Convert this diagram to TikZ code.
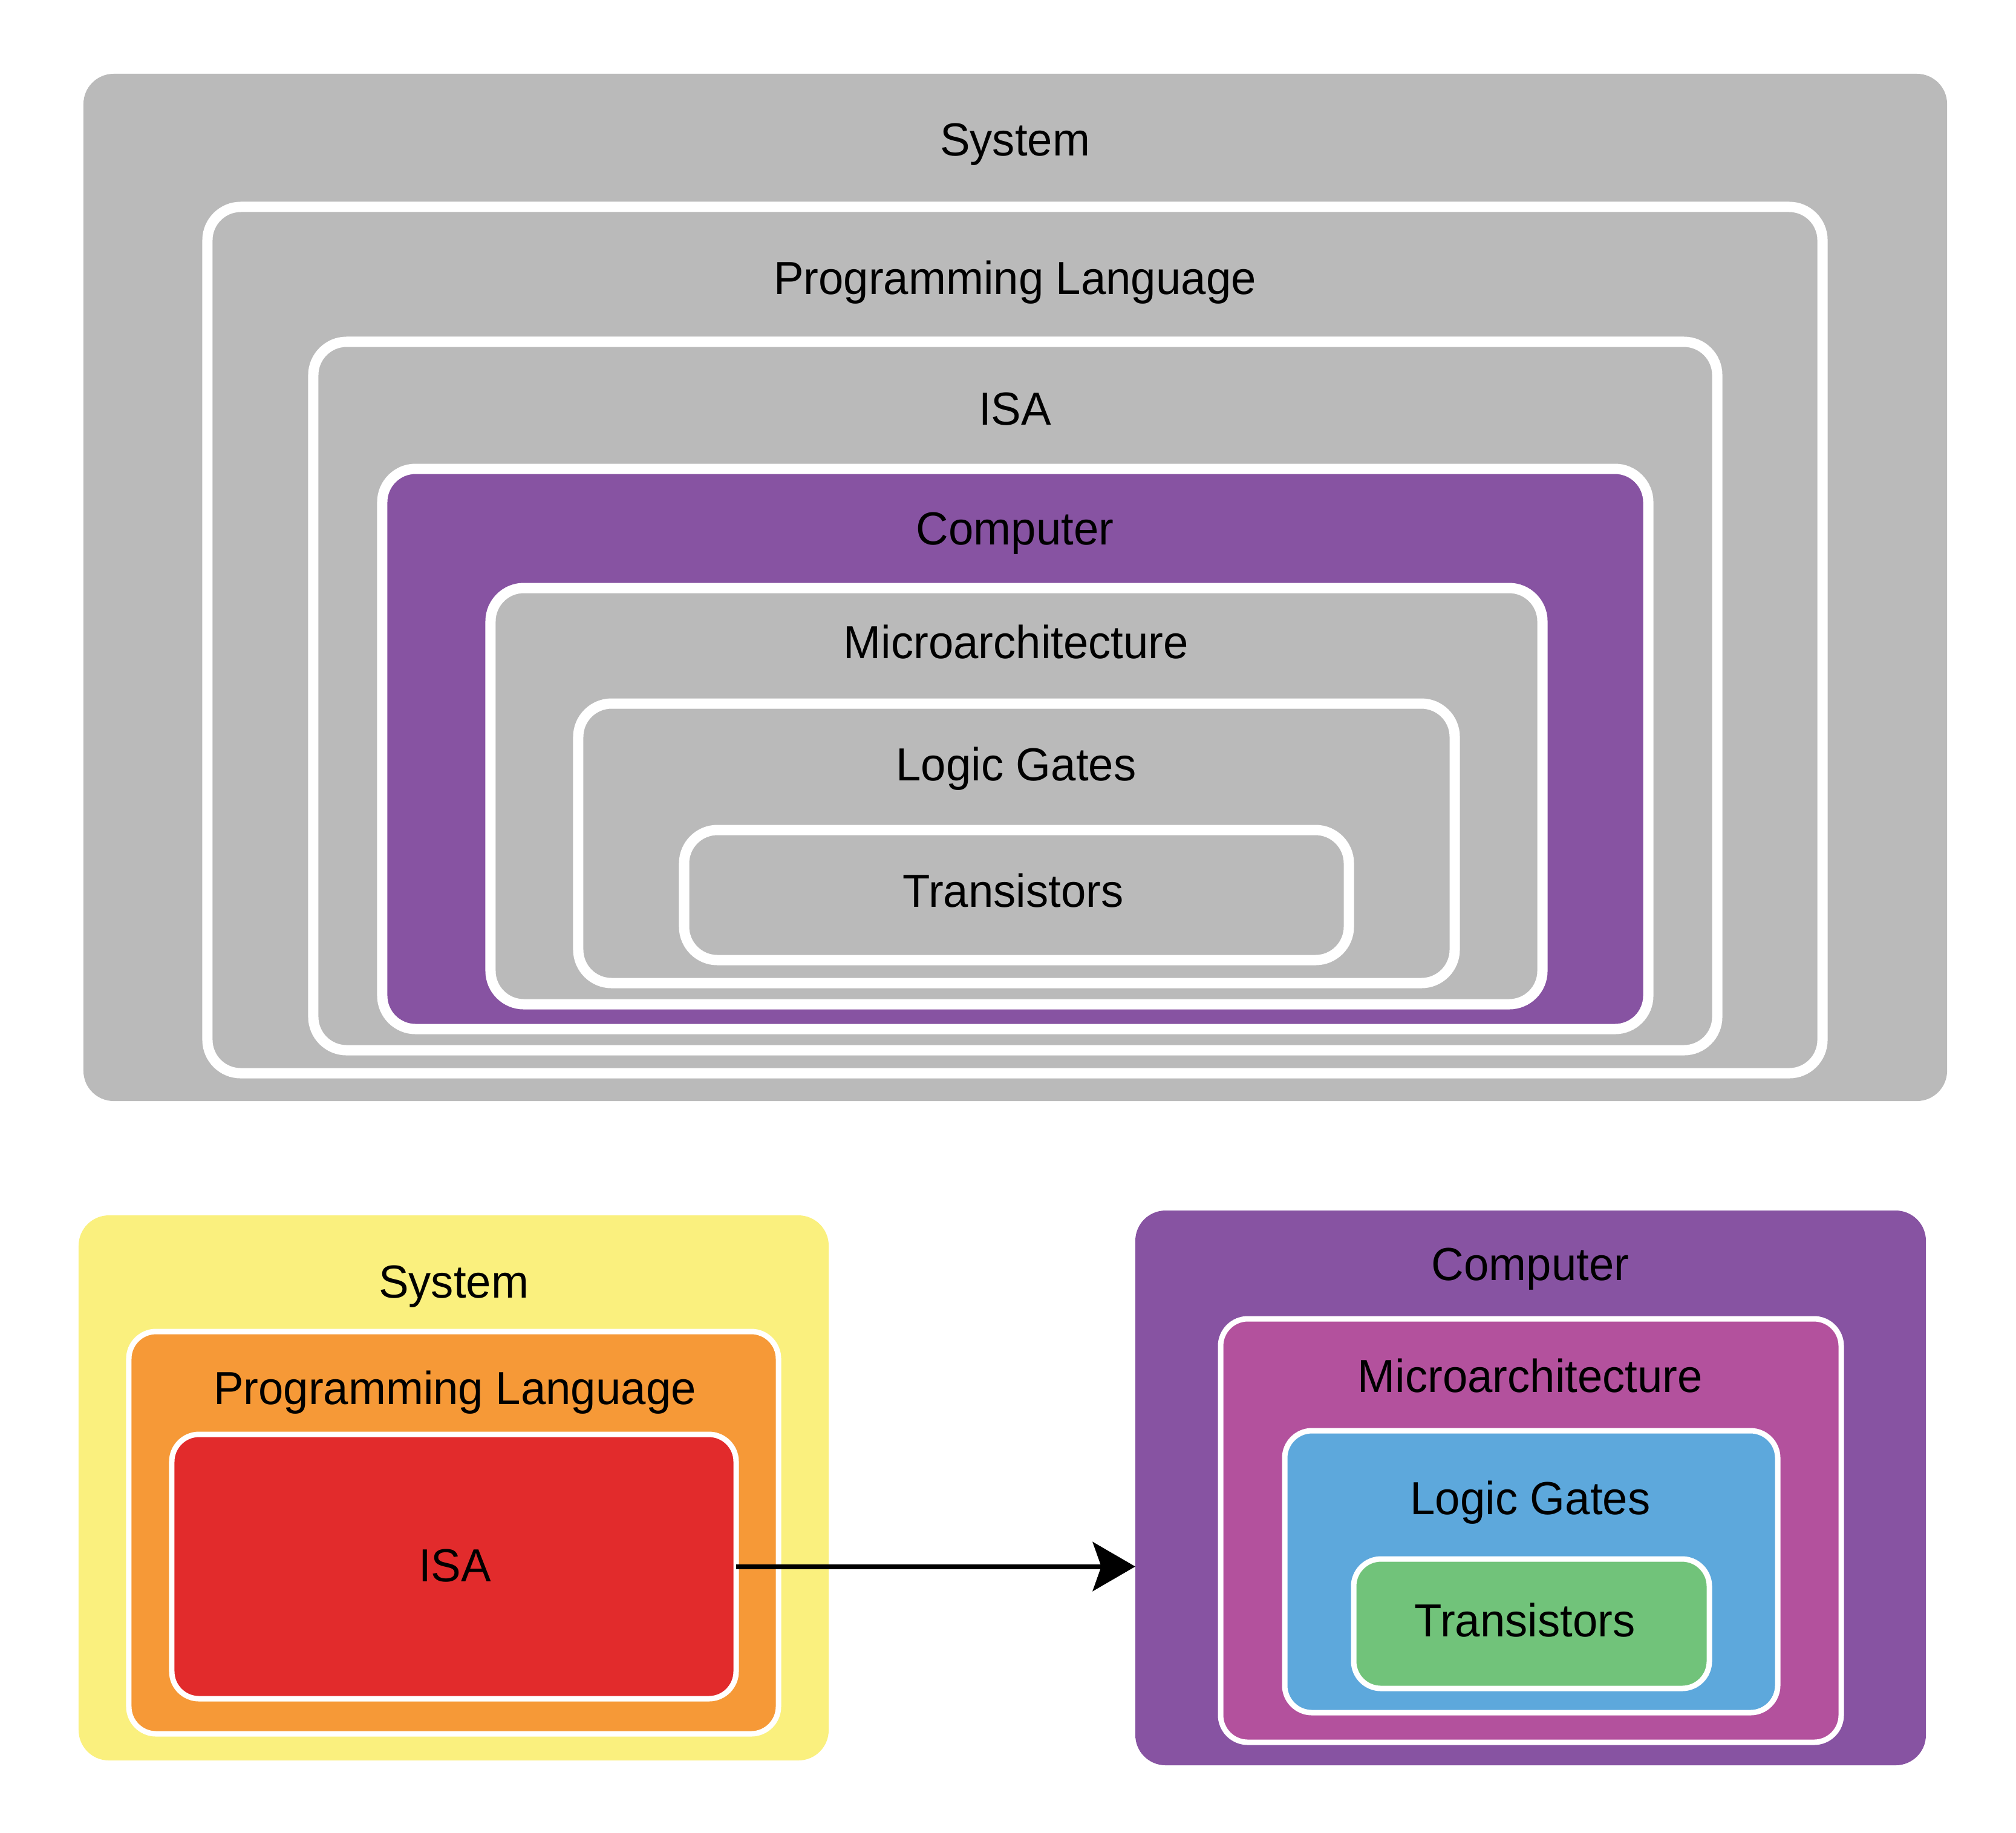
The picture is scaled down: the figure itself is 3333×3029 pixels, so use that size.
\documentclass[tikz,border=0pt]{standalone}
\usepackage{fontspec}
\setmainfont{Liberation Sans}[FakeStretch=0.97]
\usetikzlibrary{arrows.meta}
\definecolor{cgray}{HTML}{BABABA}
\definecolor{cpurple}{HTML}{8753A2}
\definecolor{cyellow}{HTML}{FAF07E}
\definecolor{corange}{HTML}{F69937}
\definecolor{cred}{HTML}{E22B2C}
\definecolor{cmagenta}{HTML}{B3519D}
\definecolor{cblue}{HTML}{5DA8DC}
\definecolor{cgreen}{HTML}{71C37A}
\newcommand\RBox[6]{%
  \pgfmathsetmacro\rbw{(#5-#3)*0.01}%
  \pgfmathsetmacro\rbh{(#6-#4)*0.01}%
  \pgfmathsetmacro\rbx{(#3+#5)/2}%
  \pgfmathsetmacro\rby{(#4+#6)/2}%
  \node[#2, minimum width=\rbw cm, minimum height=\rbh cm] (#1) at (\rbx,\rby) {};}
\begin{document}
\begin{tikzpicture}[x=0.01cm,y=-0.01cm,
  boxbase/.style={rectangle, inner sep=0pt, outer sep=0pt},
  topouter/.style={boxbase, fill=cgray, rounded corners=0.5cm},
  topin/.style={boxbase, fill=#1, draw=white, line width=0.17cm, rounded corners=0.55cm},
  botouter/.style={boxbase, fill=#1, rounded corners=0.5cm},
  botin/.style={boxbase, fill=#1, draw=white, line width=0.09cm, rounded corners=0.45cm},
  lbl/.style={anchor=base, inner sep=0pt, font=\fontsize{21.8pt}{26pt}\selectfont, text=black},
  conn/.style={line width=0.08cm, -{Stealth[length=20pt, width=23pt, inset=4pt]}}]
\useasboundingbox (0,0) rectangle (3333,3029);
% top nested diagram
\RBox{sysT}{topouter}{138}{122}{3219}{1820}
\RBox{plT}{topin=cgray}{343}{342}{3013}{1774}
\RBox{isaT}{topin=cgray}{518}{565}{2839}{1736}
\RBox{compT}{topin=cpurple}{632}{775}{2725}{1701}
\RBox{maT}{topin=cgray}{811}{972}{2550}{1660}
\RBox{lgT}{topin=cgray}{956}{1163}{2405}{1625}
\RBox{trT}{topin=cgray}{1131}{1372}{2230}{1587}
\node[lbl] (l-sysT) at (1678,257) {System};
\node[lbl] (l-plT) at (1678,486) {Programming Language};
\node[lbl] (l-isaT) at (1678,702) {ISA};
\node[lbl] (l-compT) at (1678,900) {Computer};
\node[lbl] (l-maT) at (1680,1088) {Microarchitecture};
\node[lbl] (l-lgT) at (1680,1290) {Logic Gates};
\node[lbl] (l-trT) at (1675,1499) {Transistors};
% bottom left
\RBox{sysB}{botouter=cyellow}{130}{2009}{1370}{2910}
\RBox{plB}{botin=corange}{213}{2201}{1287}{2866}
\RBox{isaB}{botin=cred}{284}{2371}{1217}{2808}
\node[lbl] (l-sysB) at (750,2145) {System};
\node[lbl] (l-plB) at (752,2321) {Programming Language};
\node[lbl] (l-isaB) at (752,2614) {ISA};
% bottom right
\RBox{compB}{botouter=cpurple}{1877}{2001}{3184}{2918}
\RBox{maB}{botin=cmagenta}{2018}{2180}{3044}{2880}
\RBox{lgB}{botin=cblue}{2124}{2365}{2939}{2831}
\RBox{trB}{botin=cgreen}{2238}{2577}{2826}{2791}
\node[lbl] (l-compB) at (2530,2116) {Computer};
\node[lbl] (l-maB) at (2530,2301) {Microarchitecture};
\node[lbl] (l-lgB) at (2530,2503) {Logic Gates};
\node[lbl] (l-trB) at (2521,2705) {Transistors};
% connector
\draw[conn] (isaB.east) -- (isaB.east -| compB.west);
\end{tikzpicture}
\end{document}
